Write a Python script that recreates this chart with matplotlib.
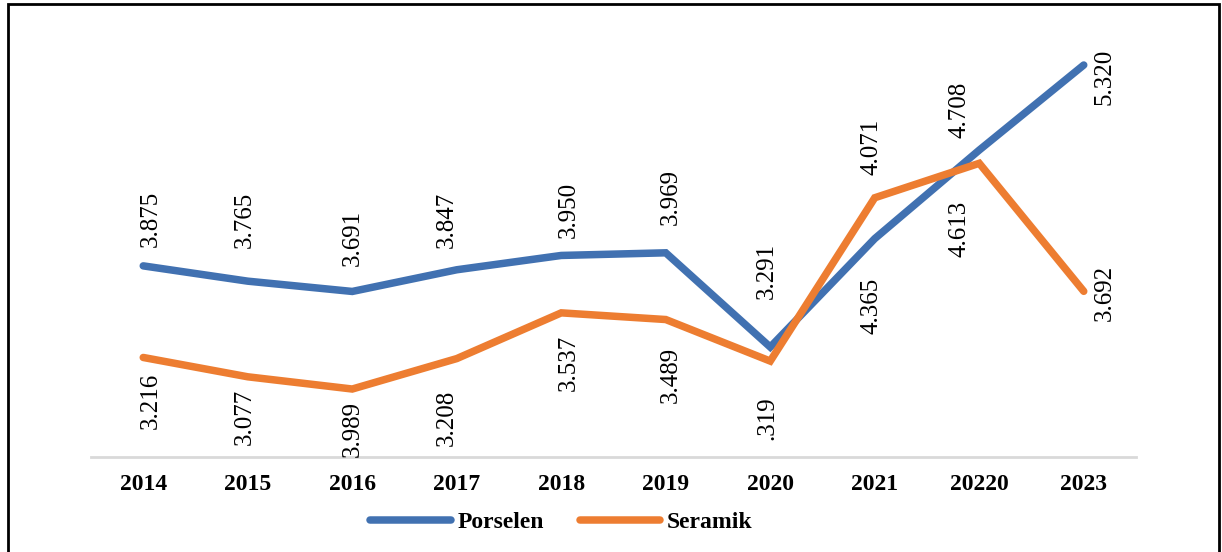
import matplotlib.pyplot as plt
from matplotlib.patches import Rectangle

years = ['2014', '2015', '2016', '2017', '2018', '2019', '2020', '2021', '20220', '2023']
porselen = [3.875, 3.765, 3.691, 3.847, 3.950, 3.969, 3.291, 4.071, 4.708, 5.320]
seramik = [3.216, 3.077, 2.989, 3.208, 3.537, 3.489, 3.190, 4.365, 4.613, 3.692]
porselen_labels = ['3.875', '3.765', '3.691', '3.847', '3.950', '3.969', '3.291', '4.071', '4.708', '5.320']
seramik_labels = ['3.216', '3.077', '3.989', '3.208', '3.537', '3.489', '.319', '4.365', '4.613', '3.692']

# label offsets in pixels (dx, dy), placed by hand like in the original
porselen_off = [(8, 47), (-3, 61), (0, 54), (-10, 50), (8, 46), (5, 56), (-3, 76), (-3, 92), (-20, 40), (21, -12)]
seramik_off = [(8, -43), (-3, -40), (0, -40), (-10, -59), (8, -50), (5, -55), (-3, -57), (-3, -108), (-20, -66), (21, -2)]

blue = '#4171B1'
orange = '#ED7D31'

plt.rcParams['font.family'] = ['Liberation Serif', 'DejaVu Serif']

fig = plt.figure(figsize=(12.22, 5.52), dpi=100)
ax = fig.add_axes([91 / 1222, 1 - 457 / 552, (1136 - 91) / 1222, 417 / 552])

x = list(range(len(years)))
ax.plot(x, porselen, color=blue, lw=5.4, solid_capstyle='round', solid_joinstyle='miter', label='Porselen')
ax.plot(x, seramik, color=orange, lw=5.4, solid_capstyle='round', solid_joinstyle='miter', label='Seramik')

for i in x:
    ax.annotate(porselen_labels[i], (i, porselen[i]), xytext=porselen_off[i], textcoords='offset pixels',
                rotation=90, ha='center', va='center', fontsize=18)
    ax.annotate(seramik_labels[i], (i, seramik[i]), xytext=seramik_off[i], textcoords='offset pixels',
                rotation=90, ha='center', va='center', fontsize=18)

ax.set_xlim(-0.5, len(years) - 0.5)
ax.set_ylim(2.5, 5.5)
ax.set_xticks(x)
ax.set_xticklabels(years, fontsize=17, fontweight='bold')
ax.set_yticks([])
ax.tick_params(axis='x', length=0, pad=12)
for s in ['top', 'left', 'right']:
    ax.spines[s].set_visible(False)
ax.spines['bottom'].set_color('#D9D9D9')
ax.spines['bottom'].set_linewidth(2)

leg = fig.legend(loc='center', bbox_to_anchor=(561.5 / 1222, 1 - 522 / 552), ncol=2, frameon=False,
                 prop={'size': 17, 'weight': 'bold'}, handlelength=3.4, handletextpad=0.3, columnspacing=1.5)

fig.patches.append(Rectangle((8 / 1222, -0.02), 1211 / 1222, 1.02 - 4 / 552, transform=fig.transFigure,
                             fill=False, edgecolor='black', linewidth=2))

fig.savefig('out.png', dpi=100)
